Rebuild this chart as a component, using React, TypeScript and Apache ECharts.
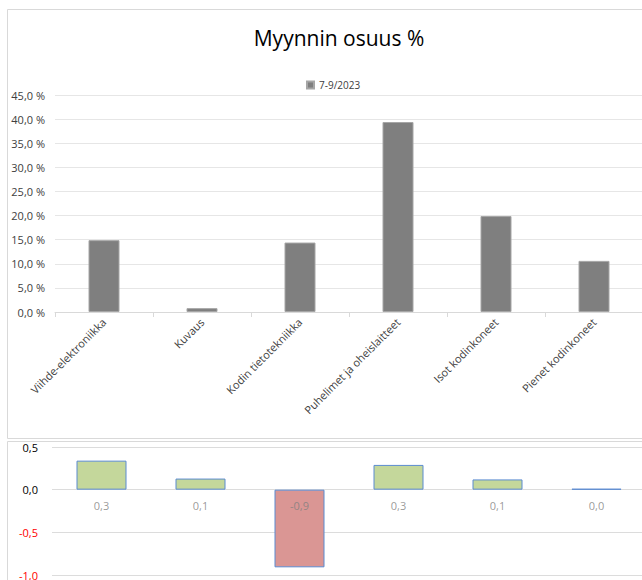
import React, { useEffect, useRef } from "react";
import * as echarts from "echarts";

const categories = [
  "Viihde-elektroniikka",
  "Kuvaus",
  "Kodin tietotekniikka",
  "Puhelimet ja oheislaitteet",
  "Isot kodinkoneet",
  "Pienet kodinkoneet",
];
const seriesName = "7-9/2023";
const shareValues = [14.9, 0.8, 14.4, 39.4, 19.9, 10.6];
const changeValues = [0.34, 0.13, -0.91, 0.29, 0.12, 0.01];

const FONT = "'Open Sans', 'Liberation Sans', sans-serif";
const fmt1 = (v: number) => v.toFixed(1).replace(".", ",").replace("-0,0", "0,0");

export default function App() {
  const ref = useRef<HTMLDivElement>(null);
  useEffect(() => {
    if (!ref.current) return;
    const chart = echarts.init(ref.current, null, { renderer: "svg" });
    chart.setOption({
      animation: false,
      backgroundColor: "#ffffff",
      textStyle: { fontFamily: FONT },
      title: {
        text: "Myynnin osuus %",
        left: 334,
        top: 22,
        textAlign: "center",
        textStyle: { fontFamily: FONT, fontSize: 21, fontWeight: "normal", color: "#000000" },
      },
      legend: {
        data: [seriesName],
        left: 301,
        top: 75,
        itemWidth: 7,
        itemHeight: 7,
        itemGap: 4,
        icon: "rect",
        textStyle: { fontFamily: FONT, fontSize: 10, color: "#404040" },
      },
      graphic: [
        {
          type: "rect",
          shape: { x: 7.5, y: 9.5, width: 700, height: 429 },
          style: { fill: "none", stroke: "#d9d9d9", lineWidth: 1 },
          silent: true,
        },
        {
          type: "rect",
          shape: { x: 7.5, y: 441.5, width: 700, height: 200 },
          style: { fill: "none", stroke: "#d9d9d9", lineWidth: 1 },
          silent: true,
        },
      ],
      grid: [
        { left: 55, top: 95, width: 588, height: 217, outerBoundsMode: "none", containLabel: false },
        { left: 52, top: 447, width: 594, height: 128, outerBoundsMode: "none", containLabel: false },
      ],
      xAxis: [
        {
          type: "category",
          gridIndex: 0,
          data: categories,
          axisLine: { lineStyle: { color: "#d9d9d9" } },
          axisTick: { show: true, length: 5, lineStyle: { color: "#d9d9d9" } },
          axisLabel: {
            rotate: 45,
            margin: 8,
            fontSize: 11,
            fontFamily: FONT,
            color: "#404040",
            interval: 0,
          },
        },
        {
          type: "category",
          gridIndex: 1,
          data: categories,
          axisLine: { show: false },
          axisTick: { show: false },
          axisLabel: { show: false },
        },
      ],
      yAxis: [
        {
          type: "value",
          gridIndex: 0,
          min: 0,
          max: 45,
          interval: 5,
          axisLine: { show: false },
          axisTick: { show: false },
          splitLine: { lineStyle: { color: "#e6e6e6" } },
          axisLabel: {
            margin: 10,
            fontSize: 11,
            fontFamily: FONT,
            color: "#404040",
            formatter: (v: number) => fmt1(v) + " %",
          },
        },
        {
          type: "value",
          gridIndex: 1,
          min: -1,
          max: 0.5,
          interval: 0.5,
          axisLine: { show: false },
          axisTick: { show: false },
          splitLine: { lineStyle: { color: "#dcdcdc" } },
          axisLabel: {
            margin: 14,
            fontSize: 11,
            fontFamily: FONT,
            color: (v: any) => (Number(v) < 0 ? "#ff0000" : "#000000"),
            formatter: (v: number) => fmt1(v),
          },
        },
      ],
      series: [
        {
          name: seriesName,
          type: "bar",
          xAxisIndex: 0,
          yAxisIndex: 0,
          data: shareValues,
          barWidth: 31,
          itemStyle: { color: "#7f7f7f", borderColor: "#a6a6a6", borderWidth: 1 },
        },
        {
          name: "muutos",
          type: "bar",
          xAxisIndex: 1,
          yAxisIndex: 1,
          barWidth: 50,
          z: 3,
          data: changeValues.map((v) => ({
            value: v,
            itemStyle: {
              color: v < 0 ? "#da9694" : "#c4d79b",
              borderColor: "#5b8bd0",
              borderWidth: 1,
            },
          })),
        },
        {
          name: "muutos-nimi",
          type: "scatter",
          xAxisIndex: 1,
          yAxisIndex: 1,
          symbolSize: 0,
          silent: true,
          z: 5,
          data: changeValues.map((v) => ({ value: 0, change: v })),
          label: {
            show: true,
            position: "bottom",
            distance: 10,
            fontSize: 11,
            fontFamily: FONT,
            color: "#7f7f7f",
            formatter: (p: any) => fmt1(changeValues[p.dataIndex]),
          },
        },
      ],
    });
    return () => chart.dispose();
  }, []);
  return (
    <div
      ref={ref}
      style={{ position: "absolute", left: 0, top: 0, width: 642, height: 580 }}
    />
  );
}
